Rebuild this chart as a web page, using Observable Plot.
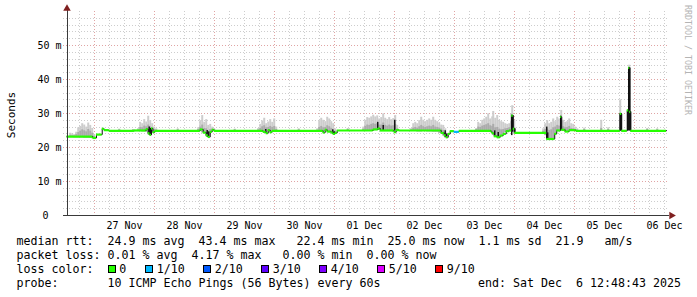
<!DOCTYPE html>
<html><head><meta charset="utf-8">
<script src="https://cdn.jsdelivr.net/npm/d3@7"></script>
<script src="https://cdn.jsdelivr.net/npm/@observablehq/plot@0.6"></script>
<style>
body{margin:0;background:#fff;}
#wrap{position:relative;width:697px;height:297px;background:#fff;font-family:"DejaVu Sans Mono",monospace;overflow:hidden;}
#wrap svg{display:block;}
.lg{position:absolute;font-size:11.63px;line-height:14px;white-space:pre;color:#000;}
.sw{position:absolute;width:6px;height:6px;border:1px solid #000;}
.rot{position:absolute;white-space:pre;line-height:1;}
</style></head><body><div id="wrap"></div>
<script>
// ---- time axis: hours since 26 Nov 00:00 ----
const startH = 12.81, endH = 252.81;
const dayLabels = ["27 Nov","28 Nov","29 Nov","30 Nov","01 Dec","02 Dec","03 Dec","04 Dec","05 Dec","06 Dec"];
const yTickVals = [0, 10, 20, 30, 40, 50];
const yTickLabels = ["0", "10 m", "20 m", "30 m", "40 m", "50 m"];
const yTitle = "Seconds";
const watermark = "RRDTOOL / TOBI OETIKER";

// ---- median rtt (ms), step points ----
const medT = [13.0,23.4,24.8,27.1,27.9,29.9,40.0,44.7,45.5,46.2,46.8,47.4,48.2,66.3,67.5,68.7,69.5,70.3,71.1,71.9,
  91.5,92.7,93.5,94.3,95.1,115.5,116.3,117.1,118.7,119.5,120.3,121.1,135.5,137.5,138.3,143.9,144.7,146.0,
  162.7,163.9,164.7,165.5,166.3,167.9,169.9,182.7,183.1,183.9,185.1,186.3,187.5,188.7,189.9,190.9,191.5,192.1,
  204.9,208.1,208.9,210.5,210.9,212.3,213.9,216.7,234.3,234.9,237.1,237.7,238.1,238.5,252.8];
const medV = [23.2,22.8,23.8,25.5,25.1,24.9,25.0,25.4,24.2,23.7,25.6,24.5,24.9,25.3,24.4,23.6,23.1,24.6,25.2,24.9,
  24.6,24.2,25.1,24.5,24.9,24.4,25.2,24.7,24.4,24.0,24.3,25.0,25.3,25.6,25.0,24.5,25.1,25.0,
  24.3,23.6,23.0,24.0,24.8,24.6,24.9,24.6,24.2,23.3,23.0,23.5,24.0,24.8,25.0,29.4,25.5,24.3,
  22.5,24.0,25.0,29.0,25.2,24.7,25.1,24.9,29.9,24.9,30.9,43.4,30.5,24.9,25.0];
// packet loss (pings out of 10) per median step
const medLoss = [0,0,0,0,0,0,0,0,0,0,0,0,0,0,0,0,0,0,0,0,
  0,0,0,0,0,0,0,0,0,0,0,0,0,0,0,0,0,0,
  0,0,0,0,0,1,0,0,0,0,0,0,0,0,0,0,0,0,
  0,0,0,0,0,0,0,0,0,0,0,0,0,0,0];

// ---- smoke (ping spread, ms) ----
const smokeT = [
  14.3,15.1,15.9,16.7,17.5,18.3,19.1,19.9,20.7,21.5,22.3,23.1,23.9,
  41.5,42.3,43.1,43.9,44.7,45.5,46.3,47.1,47.9,48.7,
  65.5,66.3,67.1,67.9,68.7,69.5,70.3,71.1,71.9,
  89.5,90.3,91.1,91.9,92.7,93.5,94.3,95.1,95.9,96.7,
  113.1,113.9,114.7,115.5,116.3,117.1,117.9,118.7,119.5,120.3,
  131.5,132.3,133.1,133.9,134.7,135.5,136.3,137.1,137.9,138.7,139.5,140.3,141.1,141.9,142.7,143.5,144.3,145.1,
  150.7,151.5,152.3,153.1,153.9,154.7,155.5,156.3,157.1,157.9,158.7,159.5,160.3,161.1,161.9,162.7,163.5,164.3,
  176.7,177.5,178.3,179.1,179.9,180.7,181.5,182.3,183.1,183.5,184.3,185.1,185.9,186.7,187.5,188.3,189.1,189.9,190.7,191.1,191.9,
  203.5,204.3,205.1,205.9,206.7,207.5,208.3,209.1,209.9,210.7,211.5,212.3,213.1,213.9,214.7,215.5,216.3,217.1,
  33.9,39.5,57.3,80.1,105.7,125.3,219.9,226.7,229.5,234.3,237.9,245.1,249.1];
const smokeHi = [
  24.2,24.0,23.8,24.5,25.8,26.2,27.0,26.6,26.0,27.2,26.5,25.6,23.8,
  25.6,27.4,27.0,28.2,27.5,29.2,27.9,27.0,26.0,25.5,
  25.8,27.9,29.4,27.4,28.2,26.5,26.8,26.0,25.5,
  25.6,26.8,27.8,28.6,27.0,27.5,28.2,27.4,28.4,26.0,
  25.5,27.9,28.6,28.0,27.6,28.9,28.4,27.6,27.0,25.5,
  26.0,28.0,28.8,28.6,29.0,29.5,29.0,29.3,28.4,28.8,29.9,28.6,28.2,28.8,28.2,28.5,29.4,26.5,
  25.6,27.0,27.4,27.0,27.9,28.9,28.0,27.6,28.0,28.4,28.0,28.9,28.0,27.6,27.2,26.6,26.5,25.5,
  25.6,27.4,27.0,28.0,28.4,28.9,29.9,28.4,29.0,30.6,28.6,29.4,28.0,27.6,27.4,27.0,26.8,27.0,30.0,32.3,28.0,
  25.5,27.0,27.9,27.0,27.4,28.4,27.6,28.9,28.4,30.9,28.0,27.4,27.6,28.4,27.0,26.8,26.0,25.5,
  25.4,25.3,25.5,25.4,25.5,25.6,25.7,28.0,25.8,34.0,44.2,25.6,25.5];
const smokeMid = [
  23.6,23.5,23.5,23.8,24.4,24.8,25.2,24.9,24.6,25.3,24.8,24.2,23.3,
  25.2,25.9,25.8,26.3,26.1,26.6,26.0,25.7,25.3,25.1,
  25.3,26.0,26.6,25.6,25.5,24.8,25.3,25.4,25.1,
  25.2,25.6,26.1,26.4,25.8,25.9,26.2,25.9,26.2,25.3,
  25.1,25.9,26.2,25.8,25.9,26.4,26.1,25.6,25.1,24.8,
  25.4,26.2,26.6,26.5,26.8,27.0,26.8,27.0,26.6,26.6,27.2,26.5,26.3,26.6,26.3,26.4,26.8,25.5,
  25.2,25.7,25.9,25.7,26.1,26.5,26.1,25.9,26.1,26.3,26.1,26.5,26.0,25.9,25.7,25.4,25.0,24.5,
  25.3,26.0,25.9,26.3,26.5,26.7,27.0,26.4,26.2,26.8,25.8,25.9,25.4,25.2,25.3,25.5,25.6,25.8,27.6,29.0,25.8,
  24.8,25.3,25.4,25.0,25.2,25.8,26.0,26.5,26.3,27.8,26.1,25.8,25.9,26.2,25.6,25.5,25.2,25.1,
  25.2,25.2,25.2,25.2,25.2,25.3,25.3,25.6,25.3,30.0,43.4,25.3,25.2];
const smokeLo = [
  23.0,23.0,22.9,22.9,22.9,22.9,22.9,22.8,22.8,22.8,22.7,22.6,22.6,
  24.7,24.7,24.6,24.6,24.5,23.8,23.5,24.2,24.6,24.7,
  24.7,24.8,24.3,24.0,23.3,22.9,24.2,24.8,24.7,
  24.7,24.7,24.5,24.3,24.0,24.6,24.3,24.6,24.7,24.7,
  24.7,24.6,24.5,24.2,24.7,24.5,24.3,24.2,23.8,24.0,
  24.8,24.8,24.9,24.9,24.9,24.9,25.0,25.0,25.0,24.9,24.9,24.9,24.8,24.8,24.7,24.5,24.4,24.8,
  24.7,24.7,24.7,24.6,24.6,24.6,24.7,24.7,24.6,24.6,24.6,24.5,24.5,24.5,24.2,24.0,23.4,22.8,
  24.8,24.8,24.7,24.7,24.7,24.6,24.6,24.5,24.0,23.6,23.0,22.8,23.0,23.3,23.8,24.4,24.7,24.8,25.0,25.0,24.1,
  24.1,23.5,22.3,22.3,22.3,22.3,23.8,24.7,24.8,25.0,24.9,24.4,24.5,24.8,24.7,24.7,24.7,24.7,
  24.8,24.8,24.8,24.8,24.8,24.8,24.8,24.8,24.8,24.9,24.9,24.8,24.8];

// ---- dense (dark) smoke ----
const darkT  = [45.9,46.5,69.1,69.7,92.5,119.3,119.9,137.3,139.5,144.1,164.3,164.9,184.1,185.5,190.9,191.3,192.1,204.9,205.3,210.5,234.3,234.7,237.3,237.7,238.1,238.4];
const darkLo = [23.6,23.7,23.0,23.1,24.2,24.0,24.0,25.5,25.0,25.0,23.0,23.0,23.1,23.0,23.5,24.5,24.2,22.5,22.4,25.0,24.9,24.9,24.9,24.9,24.9,24.9];
const darkHi = [26.0,25.6,25.0,24.6,25.3,25.2,24.6,27.4,26.5,28.0,24.9,24.0,24.9,24.4,29.5,29.4,25.5,26.0,24.3,29.2,29.9,29.9,31.0,43.4,43.4,30.5];

// ---- legend ----
const lossColors = ["#26ff00","#00b8ff","#0059ff","#5e00ff","#7e00ff","#dd00ff","#ff0000"];
const lossLabels = ["0","1/10","2/10","3/10","4/10","5/10","9/10"];
const rttStats = ["24.9","43.4","22.4","25.0","1.1","21.9"];
const lossStats = ["0.01","4.17","0.00","0.00"];
const probeText = "10 ICMP Echo Pings (56 Bytes) every 60s";
const endText = "end: Sat Dec  6 12:48:43 2025";

// ---- build tables ----
const med = medT.map((t, i) => ({t, v: medV[i], loss: medLoss[i]}));
const medSegs = med.slice(0, -1).map((d, i) => ({t1: d.t, t2: med[i + 1].t, v: d.v, loss: d.loss}));
const smoke = smokeT.map((t, i) => ({t, lo: smokeLo[i], mid: smokeMid[i], hi: smokeHi[i]}));
const dark = darkT.map((t, i) => ({t, lo: darkLo[i], hi: darkHi[i]}));

const hMinor = d3.range(2, 60, 2).filter(v => v % 10 !== 0);
const hMajor = d3.range(10, 60, 10);
const vMajor = d3.range(24, 241, 24);
const vMinor = d3.range(18, endH, 6).filter(h => h % 24 !== 0);

const gridGrey = "#cdcdcd", gridRed = "#e0a4a4";
const crisp = {shapeRendering: "crispEdges"};

const chart = Plot.plot({
  width: 697, height: 234,
  marginLeft: 66, marginRight: 31, marginTop: 11, marginBottom: 19,
  x: {domain: [startH, endH], axis: null},
  y: {domain: [0, 60], axis: null},
  style: {fontFamily: "DejaVu Sans Mono, monospace", fontSize: "10px", background: "#fff", color: "#000"},
  marks: [
    Plot.ruleY(hMinor, {y: d => d, stroke: gridGrey, strokeDasharray: "1,2", insetLeft: -3, insetRight: -2, ...crisp}),
    Plot.ruleX(vMinor, {x: d => d, stroke: gridGrey, strokeDasharray: "1,2", insetBottom: -3, ...crisp}),
    Plot.ruleY(hMajor, {y: d => d, stroke: gridRed, strokeDasharray: "1,2", insetLeft: -3, insetRight: -2, ...crisp}),
    Plot.ruleX(vMajor, {x: d => d, stroke: gridRed, strokeDasharray: "1,2", insetBottom: -3, ...crisp}),
    // smoke
    Plot.ruleX(smoke, {x: "t", y1: "lo", y2: "hi", stroke: "#cdcdcd", strokeWidth: 2}),
    Plot.ruleX(smoke, {x: "t", y1: "lo", y2: "mid", stroke: "#ababab", strokeWidth: 2}),
    Plot.ruleX(dark, {x: "t", y1: "lo", y2: "hi", stroke: "#151515", strokeWidth: 1.5}),
    // median
    Plot.line(med, {x: "t", y: "v", curve: "step-after", stroke: "#111", strokeWidth: 1}),
    Plot.ruleY(medSegs, {x1: "t1", x2: "t2", y: "v", stroke: d => lossColors[d.loss], strokeWidth: 2.2}),
    // axes
    Plot.ruleY([0], {stroke: "#3a3a3a", insetLeft: -3, insetRight: -3, ...crisp}),
    Plot.ruleX([startH], {stroke: "#3a3a3a", dx: 0.5, insetTop: -2, ...crisp}),
    Plot.dot([0], {x: endH, y: 0, symbol: "triangle", rotate: 90, r: 2.8, dx: 5, fill: "#7f1f1f", stroke: "none"}),
    Plot.dot([0], {x: startH, y: 60, symbol: "triangle", r: 2.8, dx: 0.5, dy: -3, fill: "#7f1f1f", stroke: "none"}),
    // tick labels
    Plot.text(dayLabels, {x: (d, i) => 36 + 24 * i, y: 0, dy: 10}),
    Plot.text(yTickVals.slice(1), {x: startH, y: d => d, text: (d, i) => yTickLabels[i + 1], textAnchor: "end", dx: -5}),
    Plot.text([yTickVals[0]], {x: startH, y: d => d, text: () => yTickLabels[0], textAnchor: "end", dx: -18})
  ]
});
const wrap = document.getElementById("wrap");
wrap.appendChild(chart);

function addRot(s, cx, cy, deg, size, color) {
  const e = document.createElement("div");
  e.className = "rot";
  e.style.left = cx + "px"; e.style.top = cy + "px";
  e.style.fontSize = size + "px"; e.style.color = color;
  e.style.transform = `translate(-50%,-50%) rotate(${deg}deg)`;
  e.textContent = s;
  wrap.appendChild(e);
}
addRot(yTitle, 10.5, 115, -90, 11, "#000");
addRot(watermark, 687.5, 60, 90, 8.3, "#b4b4b4");

function addText(x, top, s) {
  const e = document.createElement("div");
  e.className = "lg"; e.style.left = x + "px"; e.style.top = top + "px"; e.textContent = s;
  wrap.appendChild(e);
}
const rowTop = [234, 248, 262, 276];
addText(16.5, rowTop[0], `median rtt:  ${rttStats[0]} ms avg  ${rttStats[1]} ms max   ${rttStats[2]} ms min  ${rttStats[3]} ms now  ${rttStats[4]} ms sd  ${rttStats[5]}   am/s`);
addText(16.5, rowTop[1], `packet loss: ${lossStats[0]} % avg  ${lossStats[1]} % max   ${lossStats[2]} % min  ${lossStats[3]} % now`);
addText(16.5, rowTop[2], "loss color:");
const swX = [107.8, 145.3, 203.3, 261.3, 319.3, 377.3, 435.3];
lossColors.forEach((c, i) => {
  const s = document.createElement("div");
  s.className = "sw"; s.style.left = Math.round(swX[i]) + "px"; s.style.top = "265px"; s.style.background = c;
  wrap.appendChild(s);
  addText(swX[i] + 11.5, rowTop[2], lossLabels[i]);
});
addText(16.5, rowTop[3], "probe:       " + probeText);
addText(478, rowTop[3], endText);
</script></body></html>
